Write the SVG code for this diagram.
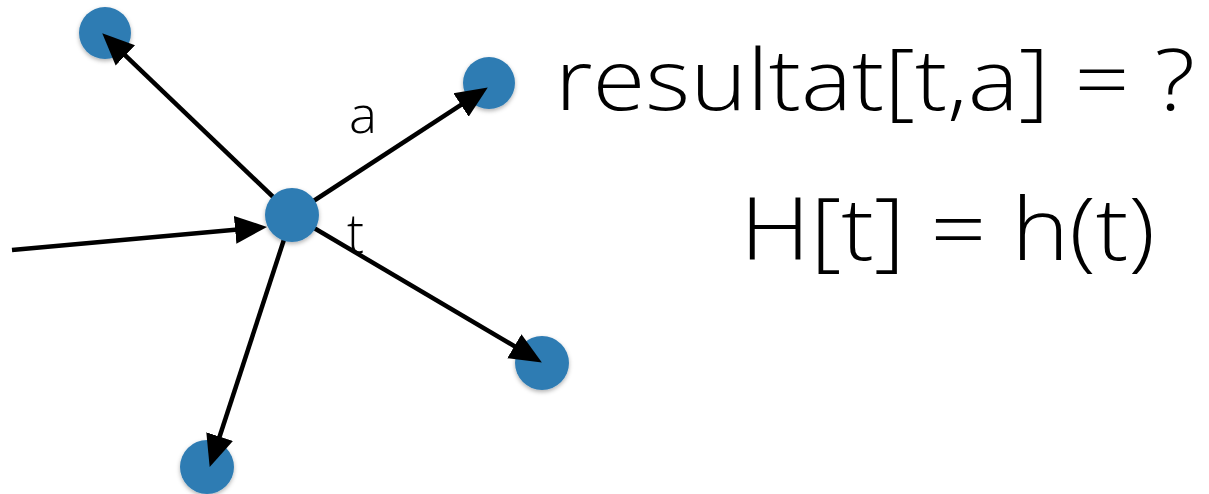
<svg xmlns="http://www.w3.org/2000/svg" width="1209" height="494" viewBox="0 0 1209 494">
<style>
.edge{stroke:#000;stroke-width:4.5;fill:none;marker-end:url(#ah)}
.node{fill:#2f7cb3;filter:url(#sh)}
.lbl{font-family:"Open Sans","Liberation Sans",sans-serif;font-weight:300;fill:#000}
</style>
<defs>
<marker id="ah" markerUnits="userSpaceOnUse" viewBox="-11 -15 33 30" markerWidth="33" markerHeight="30" refX="0" refY="0" orient="auto">
<path d="M-11,-14 L21,0 L-11,14 z" fill="#000"/>
</marker>
<filter id="sh" x="-30%" y="-30%" width="160%" height="160%">
<feDropShadow dx="0" dy="2" stdDeviation="2" flood-color="#000" flood-opacity="0.3"/>
</filter>
</defs>
<rect width="1209" height="494" fill="#fff"/>
<g id="nodes-outer">
<g id="n-topleft"><circle class="node" cx="105" cy="33" r="26"/></g>
<g id="n-topright"><circle class="node" cx="489" cy="83" r="26"/></g>
<g id="n-right"><circle class="node" cx="542" cy="363" r="27"/></g>
<g id="n-bottom"><circle class="node" cx="207" cy="467" r="27"/></g>
</g>
<g id="connectors">
<line class="edge" x1="292" y1="215" x2="117.4" y2="47.8"/>
<line class="edge" x1="292" y1="215" x2="470.2" y2="98.9"/>
<line class="edge" x1="292" y1="215" x2="523.8" y2="351.8"/>
<line class="edge" x1="292" y1="215" x2="216.2" y2="447"/>
<line class="edge" x1="12" y1="250" x2="246.1" y2="228.8"/>
</g>
<g id="n-center"><circle class="node" cx="292" cy="215" r="27"/></g>
<g id="labels">
<text class="lbl" x="349" y="133" font-size="52" textLength="28" lengthAdjust="spacingAndGlyphs">a</text>
<text class="lbl" x="347" y="253" font-size="56" textLength="17" lengthAdjust="spacingAndGlyphs">t</text>
<text class="lbl" x="555" y="110" font-size="84" textLength="640" lengthAdjust="spacingAndGlyphs">resultat[t,a] = ?</text>
<text class="lbl" x="740" y="260" font-size="86" textLength="415" lengthAdjust="spacingAndGlyphs">H[t] = h(t)</text>
</g>
</svg>
